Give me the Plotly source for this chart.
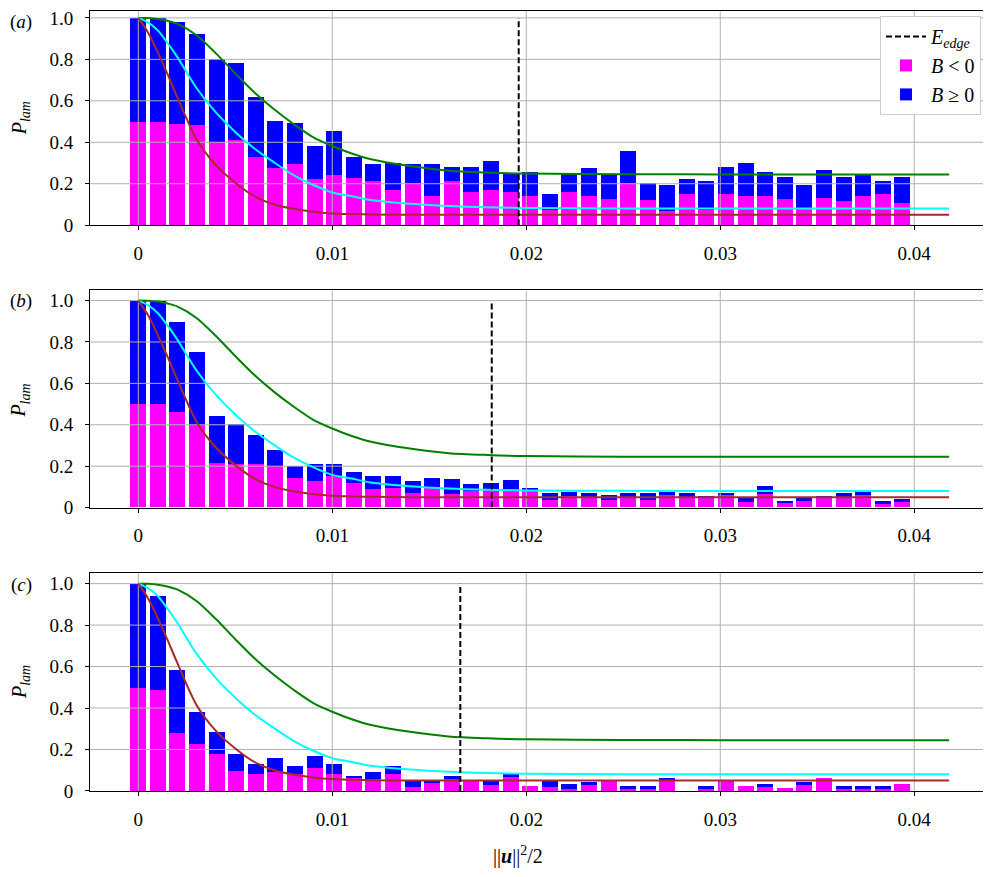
import numpy as np
import plotly.graph_objects as go
from plotly.subplots import make_subplots

# ---------------- data ----------------
bin_step = 0.00101
n_bins = 40
energy = [round(i * bin_step, 6) for i in range(n_bins)]

# total laminarisation probability (B<0 + B>=0) and B<0 part, panels a,b,c
total_a = [1.0, 1.0, 0.979, 0.924, 0.80, 0.782, 0.616, 0.502, 0.492, 0.383,
           0.454, 0.331, 0.293, 0.302, 0.293, 0.293, 0.283, 0.283, 0.312, 0.25,
           0.255, 0.150, 0.245, 0.274, 0.245, 0.359, 0.203, 0.193, 0.222, 0.212,
           0.283, 0.302, 0.255, 0.231, 0.193, 0.264, 0.231, 0.245, 0.212, 0.231]
neg_a = [0.50, 0.50, 0.487, 0.483, 0.402, 0.411, 0.331, 0.278, 0.297, 0.222,
         0.241, 0.226, 0.212, 0.169, 0.203, 0.141, 0.212, 0.160, 0.169, 0.160,
         0.141, 0.075, 0.160, 0.141, 0.127, 0.203, 0.122, 0.070, 0.150, 0.075,
         0.150, 0.141, 0.141, 0.127, 0.080, 0.131, 0.117, 0.141, 0.150, 0.108]

total_b = [1.0, 1.0, 0.897, 0.750, 0.441, 0.403, 0.350, 0.279, 0.198, 0.212,
           0.212, 0.170, 0.151, 0.151, 0.127, 0.141, 0.136, 0.113, 0.117, 0.132,
           0.094, 0.070, 0.074, 0.070, 0.060, 0.070, 0.070, 0.074, 0.070, 0.055,
           0.070, 0.046, 0.103, 0.027, 0.050, 0.055, 0.070, 0.079, 0.032, 0.041]
neg_b = [0.498, 0.498, 0.460, 0.398, 0.217, 0.212, 0.208, 0.198, 0.141, 0.127,
         0.151, 0.117, 0.089, 0.094, 0.070, 0.098, 0.065, 0.079, 0.084, 0.089,
         0.089, 0.036, 0.055, 0.050, 0.036, 0.050, 0.036, 0.060, 0.050, 0.050,
         0.060, 0.027, 0.065, 0.022, 0.032, 0.050, 0.050, 0.060, 0.017, 0.027]

total_c = [1.0, 0.938, 0.582, 0.378, 0.283, 0.179, 0.131, 0.160, 0.122, 0.169,
           0.131, 0.070, 0.089, 0.122, 0.051, 0.051, 0.070, 0.051, 0.051, 0.079,
           0.022, 0.046, 0.032, 0.041, 0.051, 0.022, 0.022, 0.060, 0.0, 0.022,
           0.051, 0.022, 0.032, 0.013, 0.041, 0.060, 0.022, 0.022, 0.022, 0.032]
neg_c = [0.497, 0.487, 0.278, 0.226, 0.179, 0.098, 0.079, 0.089, 0.079, 0.108,
         0.079, 0.060, 0.055, 0.079, 0.017, 0.036, 0.055, 0.051, 0.027, 0.065,
         0.022, 0.017, 0.008, 0.027, 0.051, 0.008, 0.008, 0.051, 0.0, 0.008,
         0.051, 0.022, 0.017, 0.013, 0.027, 0.060, 0.008, 0.008, 0.008, 0.032]

e_edge = [0.01961, 0.01822, 0.0166]

# model curves (same in every panel)
curve_x = [0, 0.0005, 0.001, 0.0015, 0.002, 0.003, 0.004, 0.005, 0.006, 0.007,
           0.008, 0.009, 0.010, 0.011, 0.012, 0.014, 0.016, 0.018, 0.020,
           0.025, 0.030, 0.0418]
curve_green = [1.0, 0.999, 0.995, 0.986, 0.972, 0.916, 0.829, 0.732, 0.639,
               0.559, 0.488, 0.425, 0.382, 0.346, 0.318, 0.285, 0.263, 0.254,
               0.249, 0.246, 0.245, 0.245]
curve_cyan = [1.0, 0.978, 0.94, 0.88, 0.813, 0.662, 0.544, 0.45, 0.369, 0.303,
              0.242, 0.195, 0.158, 0.140, 0.121, 0.103, 0.092, 0.086, 0.083,
              0.081, 0.080, 0.080]
curve_brown = [1.0, 0.93, 0.835, 0.73, 0.62, 0.415, 0.29, 0.205, 0.139, 0.100,
               0.079, 0.065, 0.057, 0.054, 0.052, 0.050, 0.050, 0.050, 0.050,
               0.050, 0.050, 0.050]

x_ticks = [0, 0.01, 0.02, 0.03, 0.04]
x_ticktext = ["0", "0.01", "0.02", "0.03", "0.04"]
y_ticks = [0, 0.2, 0.4, 0.6, 0.8, 1.0]
y_ticktext = ["0", "0.2", "0.4", "0.6", "0.8", "1.0"]
panel_labels = ["(<i>a</i>)", "(<i>b</i>)", "(<i>c</i>)"]

# ---------------- figure ----------------
# the page body keeps an 8px margin, so the figure is drawn 8px in from the window corner
OFF = 8
W, H = 991 - OFF, 877 - OFF
FONT = "Liberation Serif"


def fx(px):
    return (px - OFF) / W


def fy(py):
    return min(1.0, max(0.0, 1 - (py - OFF) / H))


x_range = [-0.00249, 0.04387]
x_dom = [fx(90), fx(989.3)]
# (frame top, y=1 line, y=0 line) in window pixels
panel_px = [(8, 15, 225.7), (291.7, 302.3, 512.7), (579.3, 590, 800.7)]
y_doms = [[fy(b), fy(t)] for (t, one, b) in panel_px]
y_tops = [1 + (one - t) / (b - one) for (t, one, b) in panel_px]

fig = make_subplots(rows=3, cols=1)
bar_w = 0.000825
totals = [total_a, total_b, total_c]
negs = [neg_a, neg_b, neg_c]

for k in range(3):
    row = k + 1
    neg = negs[k]
    pos = [max(t - n, 0) for t, n in zip(totals[k], neg)]
    fig.add_trace(go.Bar(x=energy, y=neg, width=bar_w, marker=dict(color="#ff00ff", line=dict(width=0)),
                         name="<i>B</i> &lt; 0", showlegend=(k == 0), legendrank=2), row=row, col=1)
    fig.add_trace(go.Bar(x=energy, y=pos, width=bar_w, marker=dict(color="#0000ff", line=dict(width=0)),
                         name="<i>B</i> ≥ 0", showlegend=(k == 0), legendrank=3), row=row, col=1)
    # grid lines drawn above the bars (as in the reference)
    gx, gy = [], []
    for yt in y_ticks[1:]:
        gx += [x_range[0], x_range[1], None]
        gy += [yt, yt, None]
    for xt in x_ticks:
        gx += [xt, xt, None]
        gy += [0, y_tops[k], None]
    fig.add_trace(go.Scatter(x=gx, y=gy, mode="lines", line=dict(color="#b0b0b0", width=1),
                             showlegend=False, hoverinfo="skip"), row=row, col=1)
    for cy, col in [(curve_green, "#008000"), (curve_cyan, "#00ffff"), (curve_brown, "#a52a2a")]:
        fig.add_trace(go.Scatter(x=curve_x, y=cy, mode="lines",
                                 line=dict(color=col, width=2, shape="spline", smoothing=0.8),
                                 showlegend=False), row=row, col=1)
    fig.add_trace(go.Scatter(x=[e_edge[k], e_edge[k]], y=[0, 1.0], mode="lines",
                             line=dict(color="black", width=2, dash="6px,3px"),
                             name="<i>E<sub>edge</sub></i>", showlegend=(k == 0), legendrank=1),
                  row=row, col=1)

for k in range(3):
    sx = "" if k == 0 else str(k + 1)
    fig.layout["xaxis" + sx].update(
        domain=x_dom, range=x_range, tickvals=x_ticks, ticktext=x_ticktext,
        ticks="outside", ticklen=4, tickcolor="black", showline=True, linecolor="black",
        linewidth=1, mirror=True, showgrid=False, zeroline=False, ticklabelstandoff=7,
        tickfont=dict(family=FONT, size=19, color="black"))
    fig.layout["yaxis" + sx].update(
        domain=y_doms[k], range=[0, y_tops[k]], tickvals=y_ticks, ticktext=y_ticktext,
        ticks="outside", ticklen=4, tickcolor="black", showline=True, linecolor="black",
        linewidth=1, mirror=True, showgrid=False, zeroline=False, ticklabelstandoff=8,
        ticklabeloverflow="allow",
        tickfont=dict(family=FONT, size=19, color="black"))

annotations = []
label_y = [19, 303, 591]
title_y = [117, 404, 690]
for k in range(3):
    annotations.append(dict(text=panel_labels[k], x=fx(21), y=fy(label_y[k]), xref="paper", yref="paper",
                            showarrow=False, xanchor="center", yanchor="middle",
                            font=dict(family=FONT, size=19, color="black")))
    annotations.append(dict(text="<i>P<sub>lam</sub></i>", x=fx(20), y=fy(title_y[k]), xref="paper",
                            yref="paper", showarrow=False, textangle=-90, xanchor="center",
                            yanchor="middle", font=dict(family=FONT, size=20, color="black")))
annotations.append(dict(text="||<b><i>u</i></b>||<sup>2</sup>/2", x=fx(518), y=fy(866), xref="paper",
                        yref="paper", showarrow=False, xanchor="center", yanchor="middle",
                        font=dict(family=FONT, size=20, color="black")))

fig.update_layout(
    width=W, height=H, margin=dict(l=0, r=0, t=0, b=0),
    font=dict(family=FONT, color="black"),
    paper_bgcolor="white", plot_bgcolor="white", barmode="stack", bargap=0,
    annotations=annotations,
    legend=dict(x=fx(981), y=fy(13), xanchor="right", yanchor="top", bgcolor="white",
                bordercolor="#cccccc", borderwidth=1, font=dict(family=FONT, size=20, color="black"),
                traceorder="normal", tracegroupgap=0, itemwidth=40),
    showlegend=True,
)

fig.write_html("out.html")
